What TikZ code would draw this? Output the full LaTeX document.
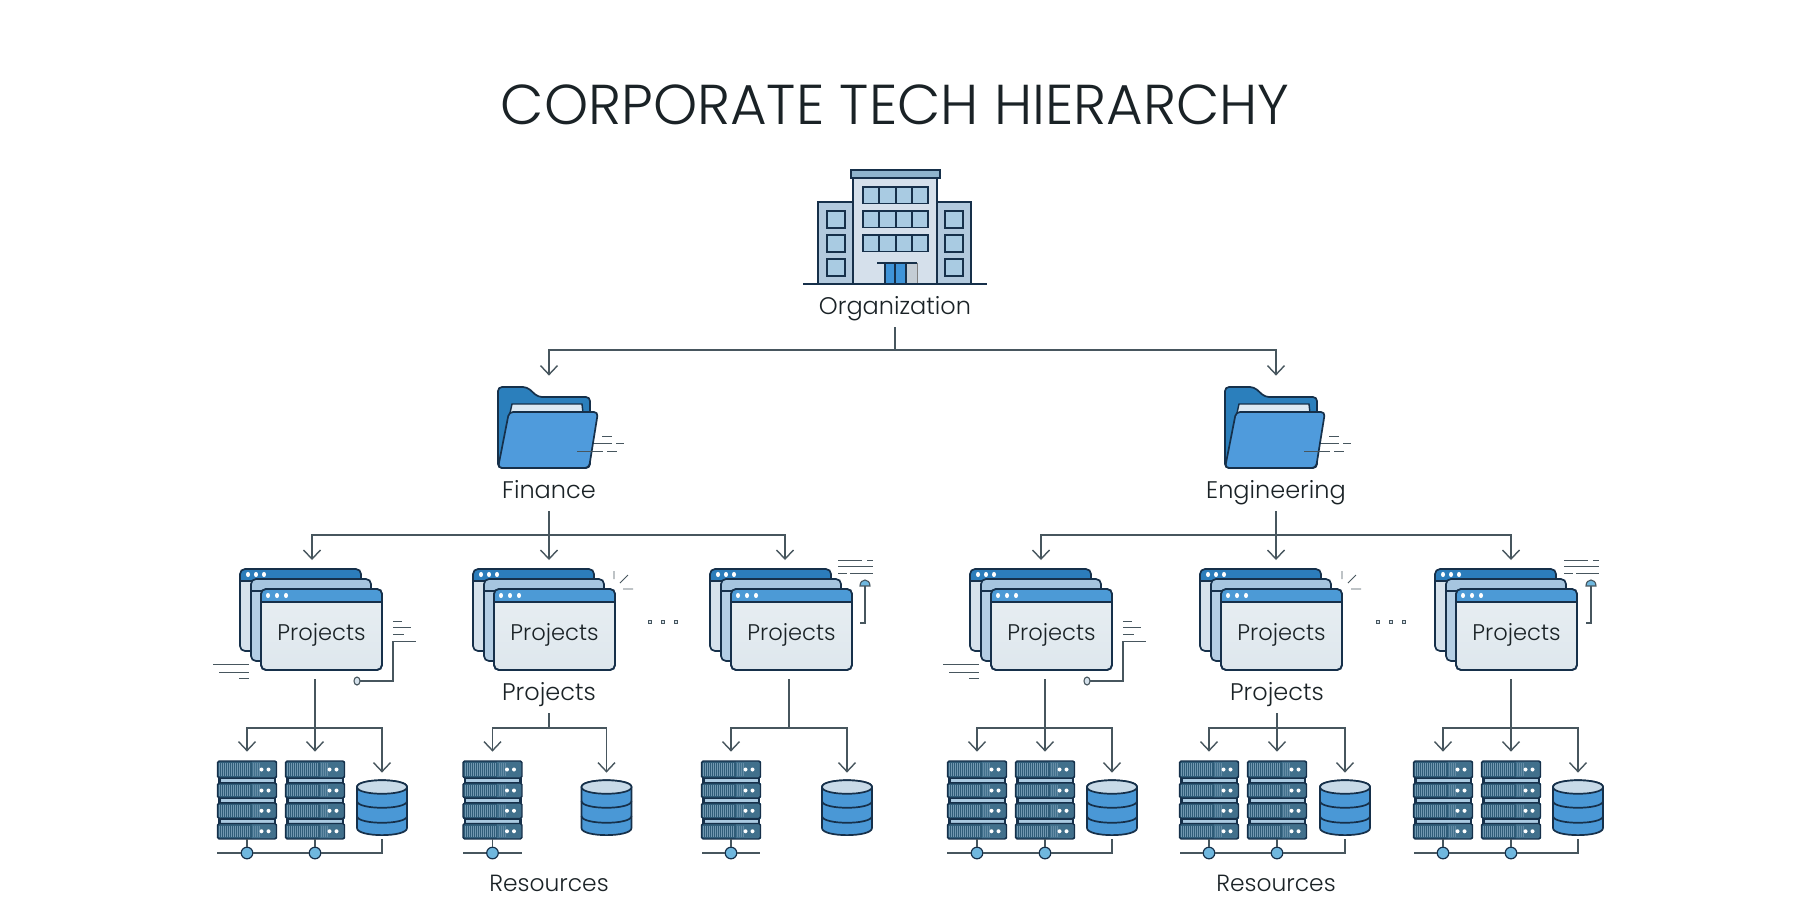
\documentclass[tikz,border=0pt]{standalone}
\usepackage{fontspec}
\setmainfont{Poppins}[UprightFont=* Light]
\usetikzlibrary{arrows.meta}
\definecolor{ink}{HTML}{16304A}
\definecolor{wire}{HTML}{47565E}
\definecolor{txt}{HTML}{1A2226}
\definecolor{barA}{HTML}{2C7DBB}
\definecolor{barB}{HTML}{A6C5DF}
\definecolor{barC}{HTML}{4C9AD6}
\definecolor{bodyA}{HTML}{D6E2EC}
\definecolor{bodyB}{HTML}{B4CEE4}
\definecolor{bodyC}{HTML}{DEE7ED}
\definecolor{blueF}{HTML}{4F9BDC}
\definecolor{blueB}{HTML}{2B7FBC}
\definecolor{paper}{HTML}{DCE9F3}
\definecolor{slab}{HTML}{2F5C78}
\definecolor{slabR}{HTML}{41708C}
\definecolor{gapc}{HTML}{A9C9E0}
\definecolor{dbtop}{HTML}{C8DAE8}
\definecolor{dbblue}{HTML}{4A98D6}
\definecolor{nodec}{HTML}{6FB7DE}
\definecolor{bwall}{HTML}{D5E0EB}
\definecolor{bwing}{HTML}{B2C9DD}
\definecolor{bwin}{HTML}{A9CBE2}
\definecolor{broof}{HTML}{8FB4CD}
\definecolor{bdoor}{HTML}{3F94D8}
\tikzset{
  x=.5pt,y=-.5pt,
  conn/.style={draw=wire,line width=.85pt},
  arr/.style={conn,-{Straight Barb[length=4.5pt,width=8.5pt,line width=.7pt]}},
  thin decor/.style={draw=wire,line width=.55pt},
  outl/.style={draw=ink,line width=.85pt},
  label/.style={font=\fontsize{12}{15}\selectfont,text=txt,minimum height=21pt,inner sep=0pt,text height=10.4pt,text depth=2pt},
  winfront/.style={outl,rounded corners=2.5pt,minimum width=60.5pt,minimum height=40.5pt,inner sep=0pt,
    top color=bodyC!70!white,bottom color=bodyC,text=txt,font=\fontsize{11.3}{14}\selectfont,text height=11.2pt,text depth=0pt},
  ghost/.style={inner sep=0pt,minimum width=#1},
  busnode/.style={circle,fill=nodec,draw=ink,line width=.6pt,minimum size=5.8pt,inner sep=0pt}
}
\newcommand{\winlayer}[6]{%
  \path[fill=#5,rounded corners=2.5pt] (#1,#2) rectangle (#3,#4);
  \begin{scope}\clip[rounded corners=2.5pt] (#1,#2) rectangle (#3,#4);
    \fill[#6] (#1,#2) rectangle (#3,#2+12);
  \end{scope}
  \draw[outl] (#1,#2+12) -- (#3,#2+12);
  \draw[outl,rounded corners=2.5pt] (#1,#2) rectangle (#3,#4);
}
\newcommand{\stackwin}[2]{%
  \begin{scope}[shift={(#2,589)}]
    \winlayer{-21}{-20}{100}{62}{bodyA}{barA}
    \foreach \d in {8,16,24} \fill[white] (-21+\d,-14.5) ellipse[x radius=2,y radius=2.6];
    \winlayer{-10}{-10}{110}{72}{bodyB}{barB}
    \node[winfront] (#1) at (60.5,40.5) {Projects};
    \begin{scope}\clip[rounded corners=2.5pt] (0,0) rectangle (121,81);
      \fill[barC] (0,0) rectangle (121,13);
    \end{scope}
    \draw[outl] (0,13) -- (121,13);
    \draw[outl,rounded corners=2.5pt] (0,0) rectangle (121,81);
    \foreach \d in {7,16,25} \fill[white] (\d,6.5) ellipse[x radius=2,y radius=2.6];
  \end{scope}
}
\newcommand{\unitslab}[2]{%
  \fill[slab] (0,#1) rectangle (34,#2);
  \fill[slabR] (34,#1) rectangle (59,#2);
  \foreach \h in {2,4,...,32} \draw[gapc!55!slab,line width=.25pt] (\h,#1+2) -- (\h,#2-2);
  \foreach \h in {36,38,...,42} \draw[gapc!45!slab,line width=.25pt] (\h,#1+2) -- (\h,#2-2);
  \fill[white] (44,#1/2+#2/2) circle[radius=2];
  \fill[white] (51,#1/2+#2/2) circle[radius=2];
  \draw[outl,line width=.7pt,rounded corners=.8pt] (0,#1) rectangle (59,#2);
}
\newcommand{\rackunit}[2]{%
  \node[ghost=29.5pt,minimum height=39pt] (#1) at (#2,800) {};
  \begin{scope}[shift={(#2-29.5,761)}]
    \fill[ink] (0.5,2) rectangle (58.5,76);
    \fill[gapc] (3,18) rectangle (56,21);
    \fill[gapc] (3,38) rectangle (56,41);
    \fill[gapc] (3,58.5) rectangle (56,61.5);
    \unitslab{0}{17}\unitslab{22}{37}\unitslab{42}{57.5}\unitslab{62.5}{78}
  \end{scope}
}
\newcommand{\dbunit}[2]{%
  \node[ghost=25pt,minimum height=28pt] (#1) at (#2,809) {};
  \begin{scope}[shift={(#2-25,787)}]
    \draw[outl,fill=dbblue] (0,0) -- (0,41) .. controls (0,50.5) and (50,50.5) .. (50,41) -- (50,0) .. controls (50,-9) and (0,-9) .. (0,0) -- cycle;
    \draw[outl,fill=dbtop] (0,0) .. controls (0,-9) and (50,-9) .. (50,0) .. controls (50,9) and (0,9) .. (0,0) -- cycle;
    \draw[outl] (0,14) .. controls (0,23) and (50,23) .. (50,14);
    \draw[outl] (0,29) .. controls (0,38) and (50,38) .. (50,29);
  \end{scope}
}
\newcommand{\folderunit}[2]{%
  \begin{scope}[shift={(#2,0)}]
    \node[ghost=50pt,minimum height=40.5pt] (#1) at (549,427.5) {};
    \draw[outl,fill=blueB,rounded corners=2pt] (498,468) -- (498,387) -- (527,387) -- (538,397) -- (590,397) -- (590,468) -- cycle;
    \draw[outl,fill=paper,line width=.7pt] (510,413) -- (512,404) -- (582,404) -- (583,413) -- cycle;
    \draw[outl,fill=blueF,rounded corners=2pt] (509,412) -- (598,412) -- (589,468) -- (498,468) -- cycle;
    \draw[thin decor,line width=.45pt] (602,436) -- (612,436) (594,443) -- (612,443) (616,443) -- (624,443) (577,451) -- (603,451) (607,451) -- (617,451);
  \end{scope}
}
\begin{document}
\begin{tikzpicture}
\useasboundingbox (0,0) rectangle (1812,912);
\fill[white] (0,0) rectangle (1812,912);
\node[font=\fontsize{28.1}{32}\selectfont,text=txt,inner sep=0pt] (title) at (895,105) {CORPORATE TECH HIERARCHY};

% building
\draw[outl,fill=bwing] (818,284) rectangle (853,202);
\draw[outl,fill=bwing] (937,284) rectangle (971,202);
\draw[outl,fill=bwall] (853,284) rectangle (937,178);
\draw[outl,fill=broof] (851,170) rectangle (940,178);
\foreach \yy in {187,211,235} {
  \draw[outl,fill=bwin] (863,\yy) rectangle (928,\yy+16.5);
  \draw[outl,line width=.6pt] (879,\yy) -- (879,\yy+16.5) (896,\yy) -- (896,\yy+16.5) (912,\yy) -- (912,\yy+16.5);
}
\foreach \xx in {827,945} \foreach \yy in {211,235,259}
  \draw[outl,fill=bwin] (\xx,\yy) rectangle (\xx+18,\yy+17);
\fill[bdoor] (885,263) rectangle (906,284);
\fill[bwall!80!gray] (906,263) rectangle (917,284);
\draw[outl,line width=.6pt] (885,263) -- (885,284) (895,263) -- (895,284) (906,263) -- (906,284);
\draw[draw=gray,line width=.5pt] (917,263) -- (917,284);
\draw[outl,line width=.7pt] (877,263) -- (917,263);
\draw[outl] (803,284) -- (987,284);
\node[label] (org) at (895,306) {Organization};

% folders
\folderunit{finF}{0}
\folderunit{engF}{727}
\node[label] (finL) at (549,490) {Finance};
\node[label] (engL) at (1276,490) {Engineering};

% project windows
\stackwin{p1}{261}\stackwin{p2}{494}\stackwin{p3}{731}
\stackwin{p4}{991}\stackwin{p5}{1221}\stackwin{p6}{1456}
\node[label] (p2L) at (549,692) {Projects};
\node[label] (p5L) at (1277,692) {Projects};

% resources
\rackunit{a1}{247}\rackunit{a2}{315}\dbunit{ad}{382}
\rackunit{b1}{492.5}\dbunit{bd}{606.5}
\rackunit{c1}{731}\dbunit{cd}{847}
\rackunit{d1}{977}\rackunit{d2}{1045}\dbunit{dd}{1112}
\rackunit{e1}{1209}\rackunit{e2}{1277}\dbunit{ed}{1345}
\rackunit{f1}{1443}\rackunit{f2}{1511}\dbunit{fd}{1578}
\node[label,font=\fontsize{11.7}{15}\selectfont] (resA) at (549,883) {Resources};
\node[label,font=\fontsize{11.7}{15}\selectfont] (resB) at (1276,883) {Resources};

% junctions
\coordinate (orgbus) at (895,350);
\coordinate (finbus) at (549,535);
\coordinate (engbus) at (1276,535);
\coordinate (p1in) at (312,560);
\coordinate (p2in) at (549,560);
\coordinate (p3in) at (785,560);
\coordinate (p4in) at (1041,560);
\coordinate (p5in) at (1276,560);
\coordinate (p6in) at (1511,560);
\coordinate (p1out) at (315,679);
\coordinate (p3out) at (789,679);
\coordinate (p4out) at (1045,679);
\coordinate (p6out) at (1511,679);
\coordinate (abus) at (315,728);
\coordinate (bbus) at (549,728);
\coordinate (cbus) at (789,728);
\coordinate (dbus) at (1045,728);
\coordinate (ebus) at (1277,728);
\coordinate (fbus) at (1511,728);

% tree connectors
\draw[conn] (org) -- (orgbus);
\draw[arr,shorten >=5.5pt] (orgbus) -| (finF.north);
\draw[arr,shorten >=5.5pt] (orgbus) -| (engF.north);
\draw[conn] (finL) -- (finbus);
\draw[conn] (engL) -- (engbus);
\draw[arr] (finbus) -| (p1in);
\draw[arr] (finbus) -- (p2in);
\draw[arr] (finbus) -| (p3in);
\draw[arr] (engbus) -| (p4in);
\draw[arr] (engbus) -- (p5in);
\draw[arr] (engbus) -| (p6in);

% project to resource connectors
\tikzset{tor/.style={arr,shorten >=4.5pt},tod/.style={arr,shorten >=4pt}}
\draw[tor] (p1out) -- (a2.north);
\draw[tor] (abus) -| (a1.north);
\draw[tod] (abus) -| (ad.north);
\draw[conn] (p2L) -- (bbus);
\draw[tor] (bbus) -| (b1.north);
\draw[tod] (bbus) -| (bd.north);
\draw[conn] (p3out) -- (cbus);
\draw[tor] (cbus) -| (c1.north);
\draw[tod] (cbus) -| (cd.north);
\draw[tor] (p4out) -- (d2.north);
\draw[tor] (dbus) -| (d1.north);
\draw[tod] (dbus) -| (dd.north);
\draw[conn] (p5L) -- (ebus);
\draw[tor] (ebus) -| (e1.north);
\draw[tor] (ebus) -- (e2.north);
\draw[tod] (ebus) -| (ed.north);
\draw[tor] (p6out) -- (f2.north);
\draw[tor] (fbus) -| (f1.north);
\draw[tod] (fbus) -| (fd.north);

% lower network lines
\foreach \R/\C/\X in {a1/n1/247,a2/n2/315,b1/n3/492.5,c1/n4/731,d1/n5/977,d2/n6/1045,e1/n7/1209,e2/n8/1277,f1/n9/1443,f2/n10/1511}
  \node[busnode] (\C) at (\X,853) {};
\foreach \R/\C in {a1/n1,a2/n2,b1/n3,c1/n4,d1/n5,d2/n6,e1/n7,e2/n8,f1/n9,f2/n10}
  \draw[conn] (\R.south) -- (\C);
\coordinate (aL) at (217,853);\coordinate (bL) at (463,853);\coordinate (bR) at (522,853);
\coordinate (cL) at (702,853);\coordinate (cR) at (760,853);\coordinate (dL) at (947,853);
\coordinate (eL) at (1180,853);\coordinate (fL) at (1414,853);
\draw[conn] (aL) -- (n1) (n1) -- (n2);
\draw[conn,shorten >=1pt] (n2) -| (ad.south);
\draw[conn] (bL) -- (n3) (n3) -- (bR);
\draw[conn] (cL) -- (n4) (n4) -- (cR);
\draw[conn] (dL) -- (n5) (n5) -- (n6);
\draw[conn,shorten >=1pt] (n6) -| (dd.south);
\draw[conn] (eL) -- (n7) (n7) -- (n8);
\draw[conn,shorten >=1pt] (n8) -| (ed.south);
\draw[conn] (fL) -- (n9) (n9) -- (n10);
\draw[conn,shorten >=1pt] (n10) -| (fd.south);

% small decorations
\foreach \dx in {0,730} {
  \begin{scope}[shift={(\dx,0)}]
    \draw[thin decor,line width=.45pt] (393,621) -- (402,621) (393,627) -- (411,627) (393,634) -- (404,634) (393,641) -- (416,641);
    \draw[thin decor,line width=.7pt] (393,641) -- (393,681) -- (360,681);
    \draw[thin decor,fill=bodyA] (357,681) ellipse[x radius=3,y radius=4];
    \draw[thin decor,line width=.45pt] (213,664) -- (249,664) (219,672) -- (249,672) (239,678) -- (249,678);
  \end{scope}
}
\foreach \dx in {0,728} {
  \begin{scope}[shift={(\dx,0)}]
    \draw[thin decor,line width=.45pt] (614,571) -- (614,579) (620,583) -- (628,575) (623,589) -- (633,589);
    \foreach \xx in {650,663,676} \draw[thin decor,line width=.4pt,fill=bodyA] (\xx-1.5,620.5) rectangle (\xx+1.5,623.5);
  \end{scope}
}
\foreach \dx in {0,726} {
  \begin{scope}[shift={(\dx,0)}]
    \draw[thin decor,line width=.45pt] (838,560) -- (862,560) (867,560) -- (873,560) (838,566) -- (873,566) (838,573) -- (847,573) (850,573) -- (873,573);
    \draw[thin decor,line width=.7pt] (860,623) -- (865,623) -- (865,586);
    \draw[thin decor,fill=nodec] (860,586) .. controls (860,578) and (870,578) .. (870,586) -- cycle;
  \end{scope}
}
\end{tikzpicture}
\end{document}
